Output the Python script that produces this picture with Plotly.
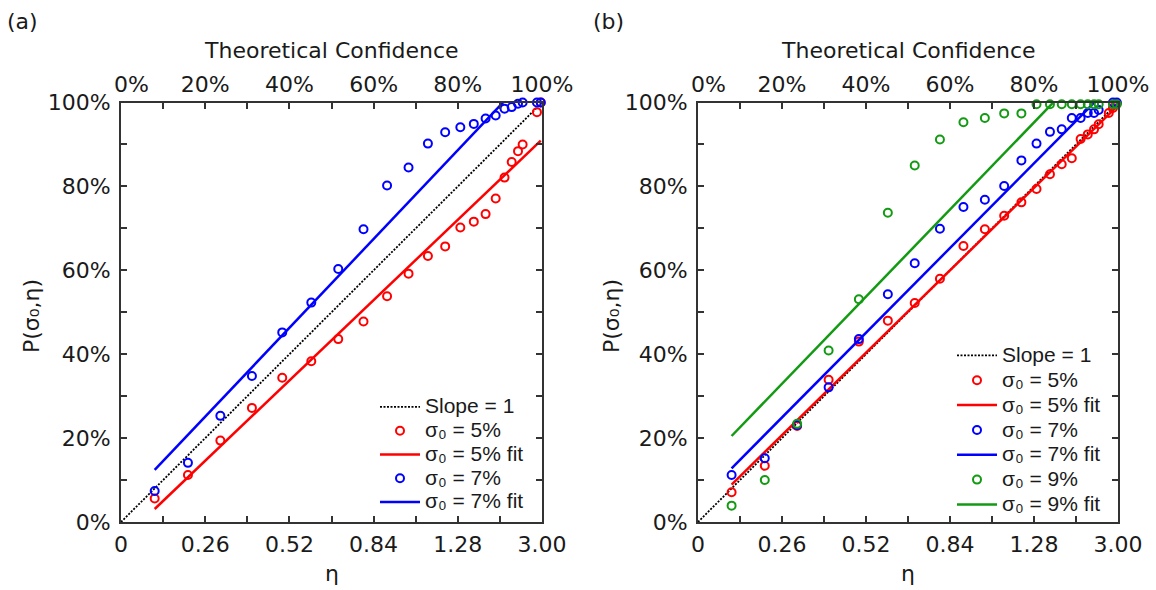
import plotly.graph_objects as go

W, H = 1156, 590

# ---------------- data ----------------
# x = theoretical confidence, y = P(sigma0, eta)
conf_a = [0.080, 0.159, 0.236, 0.311, 0.383, 0.452, 0.516, 0.576, 0.632, 0.683,
          0.729, 0.770, 0.806, 0.838, 0.866, 0.890, 0.911, 0.928, 0.943, 0.954,
          0.988, 0.997]
p5_a = [0.056, 0.112, 0.194, 0.272, 0.344, 0.383, 0.436, 0.478, 0.538, 0.592,
        0.634, 0.657, 0.702, 0.716, 0.734, 0.771, 0.821, 0.858, 0.884, 0.900,
        0.977, 1.000]
p7_a = [0.074, 0.141, 0.253, 0.348, 0.452, 0.523, 0.603, 0.698, 0.802, 0.845,
        0.902, 0.929, 0.941, 0.949, 0.962, 0.969, 0.985, 0.989, 0.997, 1.000,
        1.000, 1.000]

conf_b5 = [0.080, 0.159, 0.236, 0.311, 0.383, 0.452, 0.516, 0.576, 0.632, 0.683,
           0.729, 0.770, 0.806, 0.838, 0.866, 0.890, 0.911, 0.928, 0.943, 0.954,
           0.978, 0.988, 0.997]
p5_b = [0.071, 0.134, 0.229, 0.339, 0.430, 0.480, 0.522, 0.580, 0.658, 0.698,
        0.730, 0.762, 0.794, 0.829, 0.853, 0.867, 0.913, 0.924, 0.936, 0.948,
        0.975, 0.987, 0.998]
conf_b = [0.080, 0.159, 0.236, 0.311, 0.383, 0.452, 0.516, 0.576, 0.632, 0.683,
          0.729, 0.770, 0.806, 0.838, 0.866, 0.890, 0.911, 0.928, 0.943, 0.954,
          0.988, 0.997]
p7_b = [0.112, 0.152, 0.231, 0.321, 0.436, 0.543, 0.617, 0.699, 0.751, 0.768,
        0.801, 0.862, 0.902, 0.930, 0.936, 0.963, 0.963, 0.975, 0.975, 0.982,
        1.000, 1.000]
p9_b = [0.039, 0.100, 0.234, 0.409, 0.531, 0.737, 0.850, 0.912, 0.953, 0.963,
        0.974, 0.974, 0.996, 0.996, 0.996, 0.996, 0.996, 0.996, 0.996, 0.996,
        0.996, 0.996]

# linear fits (end points of the fitted lines)
fit_conf = [0.080, 0.997]
fit5_a = [0.031, 0.909]
fit7_a = [0.124, 1.095]
fit5_b = [0.089, 0.990]
fit7_b = [0.128, 1.054]
fit9_b = [0.205, 1.157]

slope_x = [0.0, 1.0]
slope_y = [0.0, 1.0]

major_vals = [0.0, 0.2, 0.4, 0.6, 0.8, 1.0]
minor_vals = [0.1, 0.3, 0.5, 0.7, 0.9]
eta_labels = ["0", "0.26", "0.52", "0.84", "1.28", "3.00"]
conf_labels = ["\u00a0\u00a0\u00a00%", "20%", "40%", "60%", "80%", "100%"]
p_labels = ["0%", "20%", "40%", "60%", "80%", "100%"]

RED, BLUE, GREEN = "#FF0000", "#0000FF", "#139A13"
AX = "#333333"
TICKFONT = dict(family="DejaVu Sans", size=22, color="#1a1a1a")
LEGFONT = dict(family="Liberation Sans, Arial", size=16, color="#1a1a1a")


def lg(s):
    return "<span style='font-size:21px'>" + s + "</span>"


S = "\u03c3\u2080"

fig = go.Figure()


def scatter(x, y, col, name, xa, ya, leg):
    fig.add_trace(go.Scatter(x=x, y=y, mode="markers", name=lg(name),
                             marker=dict(symbol="circle-open", size=8, color=col,
                                         line=dict(width=2, color=col)),
                             xaxis=xa, yaxis=ya, legend=leg, cliponaxis=False))


def line(x, y, col, name, xa, ya, leg, dash="solid", width=2.5):
    fig.add_trace(go.Scatter(x=x, y=y, mode="lines", name=lg(name),
                             line=dict(color=col, width=width, dash=dash),
                             xaxis=xa, yaxis=ya, legend=leg))


# panel (a)
line(slope_x, slope_y, "#000000", "Slope = 1", "x", "y", "legend", dash="2px,1.5px", width=1.8)
scatter(conf_a, p5_a, RED, S + " = 5%", "x", "y", "legend")
line(fit_conf, fit5_a, RED, S + " = 5% fit", "x", "y", "legend")
scatter(conf_a, p7_a, BLUE, S + " = 7%", "x", "y", "legend")
line(fit_conf, fit7_a, BLUE, S + " = 7% fit", "x", "y", "legend")

# panel (b)
line(slope_x, slope_y, "#000000", "Slope = 1", "x2", "y2", "legend2", dash="2px,1.5px", width=1.8)
scatter(conf_b5, p5_b, RED, S + " = 5%", "x2", "y2", "legend2")
line(fit_conf, fit5_b, RED, S + " = 5% fit", "x2", "y2", "legend2")
scatter(conf_b, p7_b, BLUE, S + " = 7%", "x2", "y2", "legend2")
line(fit_conf, fit7_b, BLUE, S + " = 7% fit", "x2", "y2", "legend2")
scatter(conf_b, p9_b, GREEN, S + " = 9%", "x2", "y2", "legend2")
line(fit_conf, fit9_b, GREEN, S + " = 9% fit", "x2", "y2", "legend2")

# invisible traces so the top (confidence) axes are drawn
for xa, ya in (("x3", "y"), ("x4", "y2")):
    fig.add_trace(go.Scatter(x=[None], y=[None], xaxis=xa, yaxis=ya,
                             showlegend=False, hoverinfo="skip"))

minor = dict(ticks="inside", ticklen=6, tickwidth=2, tickcolor=AX,
             tickmode="array", tickvals=minor_vals, showgrid=False)
common = dict(range=[0, 1], type="linear", showgrid=False, zeroline=False,
              showline=True, linewidth=2, linecolor=AX, ticks="inside",
              ticklen=6, tickwidth=2, tickcolor=AX, tickfont=TICKFONT,
              tickmode="array", tickvals=major_vals, minor=minor,
              fixedrange=True, automargin=False)


def px_x(p):
    return p / W


def px_y(p):
    return 1 - p / H


ydom = [px_y(522), px_y(102.5)]
dom_a = [px_x(121), px_x(542)]
dom_b = [px_x(698), px_x(1118)]

fig.update_layout(
    width=W, height=H,
    margin=dict(l=0, r=0, t=0, b=0, autoexpand=False),
    paper_bgcolor="white", plot_bgcolor="white",
    xaxis=dict(common, domain=dom_a, anchor="y", ticktext=eta_labels, ticklabelstandoff=2),
    yaxis=dict(common, domain=ydom, anchor="x", ticktext=p_labels, mirror="allticks", ticklabelstandoff=4),
    xaxis3=dict(common, overlaying="x", side="top", anchor="y", ticktext=conf_labels, ticklabelstandoff=0),
    xaxis2=dict(common, domain=dom_b, anchor="y2", ticktext=eta_labels, ticklabelstandoff=2),
    yaxis2=dict(common, domain=ydom, anchor="x2", ticktext=p_labels, mirror="allticks", ticklabelstandoff=4),
    xaxis4=dict(common, overlaying="x2", side="top", anchor="y2", ticktext=conf_labels, ticklabelstandoff=0),
    legend=dict(x=px_x(375), y=px_y(390), xanchor="left", yanchor="top",
                bgcolor="rgba(0,0,0,0)", font=LEGFONT, itemwidth=40,
                tracegroupgap=0, itemclick=False, itemdoubleclick=False),
    legend2=dict(x=px_x(952), y=px_y(338), xanchor="left", yanchor="top",
                 bgcolor="rgba(0,0,0,0)", font=dict(LEGFONT, size=16.8), itemwidth=40,
                 tracegroupgap=0, itemclick=False, itemdoubleclick=False),
    showlegend=True,
)

TITLEFONT = dict(family="DejaVu Sans", size=22, color="#1a1a1a")
ann = []
for cx, ylx in ((331.5, 31), (908, 611)):
    ann.append(dict(text="Theoretical Confidence", x=px_x(cx), y=px_y(50),
                    xref="paper", yref="paper", showarrow=False, font=TITLEFONT,
                    xanchor="center", yanchor="middle"))
    ann.append(dict(text="\u03b7", x=px_x(cx), y=px_y(573),
                    xref="paper", yref="paper", showarrow=False, font=TITLEFONT,
                    xanchor="center", yanchor="middle"))
    ann.append(dict(text="P(\u03c3\u2080,\u03b7)", x=px_x(ylx), y=px_y(316),
                    xref="paper", yref="paper", showarrow=False, font=TITLEFONT,
                    textangle=-90, xanchor="center", yanchor="middle"))
for lx, lab in ((22, "(a)"), (608, "(b)")):
    ann.append(dict(text=lab, x=px_x(lx), y=px_y(22), xref="paper", yref="paper",
                    showarrow=False, font=TITLEFONT, xanchor="center", yanchor="middle"))
fig.update_layout(annotations=ann)

fig.write_html("out.html", config={"displayModeBar": False},
               post_script="document.body.style.margin='0';")
